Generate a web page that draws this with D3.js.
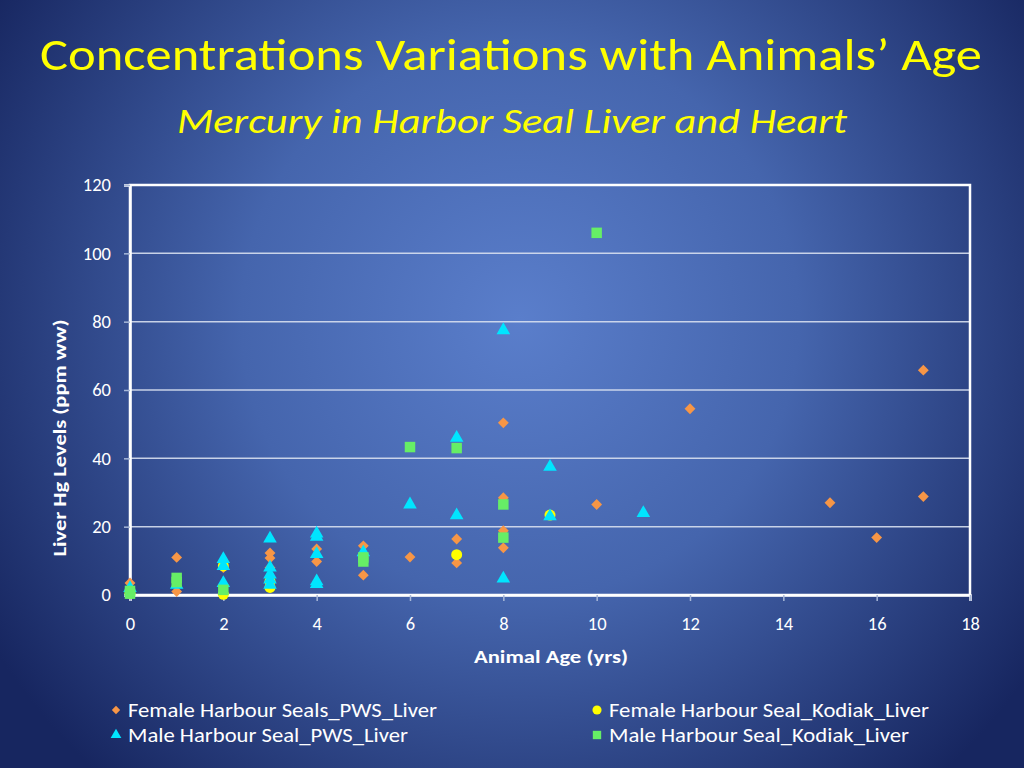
<!DOCTYPE html>
<html><head><meta charset="utf-8">
<script src="https://cdn.jsdelivr.net/npm/d3@7"></script>
<style>html,body{margin:0;padding:0;background:#1f3270;}svg{display:block;}</style>
</head><body>
<script>
const xTicks = [0,2,4,6,8,10,12,14,16,18];
const yTicks = [0,20,40,60,80,100,120];
const seriesNames = ["Female Harbour Seals_PWS_Liver","Female Harbour Seal_Kodiak_Liver","Male Harbour Seal_PWS_Liver","Male Harbour Seal_Kodiak_Liver"];
// Female Harbour Seals PWS Liver
const femalePwsAge = [0,1,1,2,3,3,3,4,4,5,5,6,7,7,8,8,8,8,10,12,15,16,17,17];
const femalePwsHg  = [3.5,11,1,8,12.3,10.8,8,13.5,9.8,14.4,5.8,11.1,16.4,9.4,50.4,28.5,18.8,13.8,26.5,54.5,27,16.8,65.8,28.8];
// Female Harbour Seal Kodiak Liver
const femaleKodAge = [0,2,2,3,3,7,9];
const femaleKodHg  = [0.5,0.2,8.5,2.2,4,11.8,23.4];
// Male Harbour Seal PWS Liver
const malePwsAge = [0,1,2,2,2,3,3,3,3,3,4,4,4,4,4,5,6,7,7,8,8,9,9,11];
const malePwsHg  = [2,3,10.5,8.5,3.5,16.5,8,6,4.5,3,18,17,12,4,3.2,12.5,26.5,46,23.3,77.5,4.8,37.5,23,24];
// Male Harbour Seal Kodiak Liver
const maleKodAge = [0,0,1,1,2,5,5,6,7,8,8,10];
const maleKodHg  = [1.2,0.4,5,3.8,1.5,11,9.8,43.3,43,26.5,16.8,106];

const W=1024,H=768;
const svg=d3.select("body").append("svg").attr("width",W).attr("height",H);
const defs=svg.append("defs");
const rg=defs.append("radialGradient").attr("id","bg").attr("gradientUnits","userSpaceOnUse")
  .attr("cx",520).attr("cy",320).attr("r",620);
rg.append("stop").attr("offset","0").attr("stop-color","#5a7ecb");
rg.append("stop").attr("offset","0.45").attr("stop-color","#4565ad");
rg.append("stop").attr("offset","1").attr("stop-color","#172660");
svg.append("rect").attr("width",W).attr("height",H).attr("fill","url(#bg)");

const font="Calibri, Carlito, Lato, 'Open Sans', sans-serif";
svg.append("text").attr("x",511).attr("y",70).attr("text-anchor","middle")
  .attr("font-family",font).attr("font-size",45).attr("fill","#ffff00")
  .attr("textLength",942).attr("lengthAdjust","spacingAndGlyphs")
  .text("Concentrations Variations with Animals’ Age");
svg.append("text").attr("x",512).attr("y",133).attr("text-anchor","middle")
  .attr("font-family",font).attr("font-size",35).attr("font-style","italic").attr("fill","#ffff00")
  .attr("textLength",670).attr("lengthAdjust","spacingAndGlyphs")
  .text("Mercury in Harbor Seal Liver and Heart");

const x=d3.scaleLinear().domain([0,18]).range([130,970]);
const y=d3.scaleLinear().domain([0,120]).range([595,185]);

// gridlines
svg.append("g").selectAll("line").data(yTicks.filter(d=>d>0&&d<120)).join("line")
  .attr("x1",130).attr("x2",970).attr("y1",d=>y(d)).attr("y2",d=>y(d))
  .attr("stroke","#d8e0f0").attr("stroke-width",1.5).attr("opacity",0.9);
// plot border
svg.append("rect").attr("x",130).attr("y",185).attr("width",840).attr("height",410)
  .attr("fill","none").attr("stroke","#ffffff").attr("stroke-width",2.5);

const yAxis=svg.append("g").attr("transform","translate(130,0)")
  .call(d3.axisLeft(y).tickValues(yTicks).tickSize(6).tickPadding(8).tickFormat(d3.format("d")));
const xAxis=svg.append("g").attr("transform","translate(0,595)")
  .call(d3.axisBottom(x).tickValues(xTicks).tickSize(6).tickPadding(16).tickFormat(d3.format("d")));
[yAxis,xAxis].forEach(a=>{
  a.select(".domain").attr("stroke","#ffffff").attr("stroke-width",2.5);
  a.selectAll(".tick line").attr("stroke","#a8b8d8").attr("stroke-width",1.5);
  a.selectAll(".tick text").attr("fill","#ffffff").attr("font-family",font).attr("font-size",18.5);
});
yAxis.selectAll(".tick text").attr("dx","-5");

svg.append("text").attr("x",551).attr("y",663).attr("text-anchor","middle")
  .attr("font-family",font).attr("font-size",17).attr("font-weight","bold").attr("fill","#ffffff")
  .attr("textLength",154).attr("lengthAdjust","spacingAndGlyphs")
  .text("Animal Age (yrs)");
svg.append("text").attr("transform","translate(66,438) rotate(-90)").attr("text-anchor","middle")
  .attr("font-family",font).attr("font-size",17).attr("font-weight","bold").attr("fill","#ffffff")
  .attr("textLength",237).attr("lengthAdjust","spacingAndGlyphs")
  .text("Liver Hg Levels (ppm ww)");

const colors=["#f79646","#ffff00","#00e5ff","#66ee66"];
const syms=[d3.symbol().type(d3.symbolDiamond2).size(75),
            d3.symbol().type(d3.symbolCircle).size(95),
            d3.symbol().type(d3.symbolTriangle).size(80),
            d3.symbol().type(d3.symbolSquare).size(110)];
const data=[[femalePwsAge,femalePwsHg],[femaleKodAge,femaleKodHg],[malePwsAge,malePwsHg],[maleKodAge,maleKodHg]];
[0,1,2,3].forEach(i=>{
  const pts=data[i][0].map((a,k)=>[a,data[i][1][k]]);
  svg.append("g").selectAll("path").data(pts).join("path")
    .attr("d",syms[i]).attr("fill",colors[i])
    .attr("transform",d=>`translate(${x(d[0])},${y(d[1])})`);
});

// legend
const leg=[{i:0,x:116,y:710,tl:309},{i:1,x:597,y:710,tl:320},{i:2,x:116,y:735,tl:280},{i:3,x:597,y:735,tl:300}];
const lsyms=[d3.symbol().type(d3.symbolDiamond2).size(45),
            d3.symbol().type(d3.symbolCircle).size(65),
            d3.symbol().type(d3.symbolTriangle).size(50),
            d3.symbol().type(d3.symbolSquare).size(70)];
leg.forEach(l=>{
  svg.append("path").attr("d",lsyms[l.i]).attr("fill",colors[l.i]).attr("transform",`translate(${l.x},${l.y})`);
  svg.append("text").attr("x",l.x+12).attr("y",l.y+7).attr("font-family",font).attr("font-size",19.5)
    .attr("fill","#ffffff").attr("textLength",l.tl).attr("lengthAdjust","spacingAndGlyphs").text(seriesNames[l.i]);
});
</script>
</body></html>
